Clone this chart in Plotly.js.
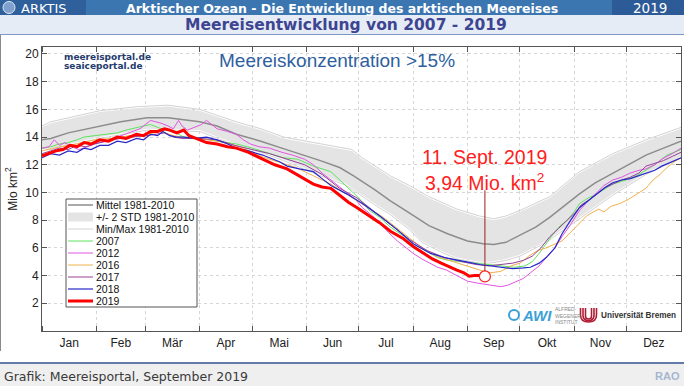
<!DOCTYPE html>
<html>
<head>
<meta charset="utf-8">
<script src="https://cdn.plot.ly/plotly-3.0.1.min.js"></script>
<style>html,body{margin:0;padding:0;background:#fff;}#chart{width:684px;height:386px;}</style>
</head>
<body>
<div id="chart"></div>
<script>
// ---------- DATA ----------
const monthNames = ['Jan','Feb','Mär','Apr','Mai','Jun','Jul','Aug','Sep','Okt','Nov','Dez'];
const monthStarts = [0,31,59,90,120,151,181,212,243,273,304,334,365];
const monthMids = [15.5,45,74.5,105,135.5,166,196.5,227.5,258,288.5,319,349.5];
const yTicks = [2,4,6,8,10,12,14,16,18,20];

const meanDays = [0,5,15,33,45,60,72,90,100,111,125,137,150,159,170,178,190,199,210,221,232,243,252,258,265,273,282,290,300,307,316,326,335,345,355,365];
const meanVals = [13.8,13.9,14.3,14.8,15.1,15.4,15.4,15.1,14.8,14.2,13.7,13.2,12.7,12.3,11.8,11.2,10.2,9.4,8.5,7.6,7.0,6.5,6.3,6.25,6.4,6.9,7.5,8.2,9.2,9.9,10.7,11.4,12.0,12.7,13.2,13.7];

const stdUpDays = [0,5,33,55,72,90,111,125,138,155,170,177,183,199,210,221,237,250,258,265,273,290,307,326,345,365];
const stdUpVals = [14.7,15.0,15.8,16.1,16.2,15.9,15.0,14.5,13.9,13.5,13.2,13.0,12.4,11.1,10.4,9.6,8.7,8.2,8.0,8.2,8.6,9.6,11.4,12.7,13.7,14.6];
const stdLoDays = [0,5,33,60,90,111,125,138,155,174,190,199,210,217,228,237,250,256,265,273,288,307,326,345,365];
const stdLoVals = [13.3,13.2,14.0,14.6,14.5,13.5,13.0,12.4,11.5,10.6,9.2,8.5,7.4,6.5,5.8,5.3,5.0,5.0,5.2,5.5,6.5,8.2,9.9,11.4,12.6];

const maxDays = [0,5,33,55,72,90,111,125,138,155,170,177,183,199,210,221,237,250,258,265,273,290,307,326,345,365];
const maxVals = [14.8,15.1,15.9,16.2,16.3,16.0,15.1,14.6,14.0,13.6,13.3,13.1,12.5,11.2,10.5,9.7,8.8,8.3,8.1,8.3,8.7,9.7,11.5,12.8,13.8,14.7];
const minDays = [0,5,33,60,90,111,125,138,155,174,190,199,210,217,228,237,250,256,265,273,288,307,326,345,365];
const minVals = [13.2,13.1,13.9,14.5,14.4,13.4,12.9,12.3,11.4,10.5,9.1,8.4,7.3,6.4,5.7,5.2,4.9,4.9,5.1,5.4,6.4,8.1,9.8,11.3,12.5];

const y2007Days = [0,5,10,15,20,24,30,36,43,48,54,58,62,66,70,75,81,90,100,111,120,130,138,146,155,165,174,181,187,193,199,206,212,219,226,232,239,246,254,262,270,276,280,284,288,292,296,300,304,307,312,317,322,326,331,336,341,345,350,357,361,365];
const y2007Vals = [13.2,13.3,13.5,13.6,13.8,14.0,14.1,14.2,14.3,14.5,14.7,14.8,14.9,14.7,14.5,14.4,14.0,13.9,13.7,13.5,13.2,12.8,12.5,12.4,11.9,11.5,10.4,9.6,8.7,8.2,7.5,6.9,6.3,5.8,5.3,5.1,5.0,4.9,4.8,4.7,4.6,4.7,5.0,5.6,6.3,7.0,7.6,8.0,8.6,9.2,9.6,9.9,10.3,10.6,10.8,11.0,11.3,11.6,12.0,12.7,12.9,13.1];

const y2012Days = [0,4,7,10,13,17,21,24,30,36,43,50,56,59,62,65,68,72,75,78,80,83,87,91,94,97,100,106,111,115,119,124,130,137,143,150,155,160,165,170,174,179,183,188,193,198,203,208,212,217,222,226,231,237,243,249,256,262,266,270,275,279,284,288,293,297,302,307,312,317,321,326,331,336,341,345,350,354,360,365];
const y2012Vals = [13.2,13.3,13.8,13.4,13.6,13.3,13.1,13.2,13.5,13.7,14.0,14.3,14.6,14.9,15.2,15.1,15.0,14.8,14.6,15.2,14.8,14.5,14.7,14.9,15.2,14.9,14.6,14.4,14.2,13.8,13.5,13.3,13.2,12.9,12.7,12.4,12.0,11.4,10.9,10.4,10.0,9.5,8.9,8.4,7.8,7.1,6.5,6.0,5.6,5.2,4.9,4.6,4.4,4.0,3.6,3.45,3.3,3.2,3.3,3.5,3.8,4.2,4.7,5.3,6.0,6.8,7.7,8.7,9.4,10.0,10.5,10.9,11.1,11.4,11.6,11.7,12.0,12.4,12.8,13.2];

const y2016Days = [0,10,20,30,40,50,60,68,75,85,95,105,115,125,135,145,155,165,175,185,195,205,215,225,235,242,250,256,262,268,273,278,283,288,293,297,301,304,308,311,315,318,321,325,330,335,340,345,349,353,357,361,365];
const y2016Vals = [13.0,13.3,13.5,13.8,13.9,14.1,14.2,14.4,14.1,13.9,13.8,13.6,13.2,12.6,12.2,11.8,11.2,10.6,9.8,9.0,8.2,7.2,6.2,5.4,5.0,4.7,4.4,4.2,4.3,4.7,4.9,5.4,5.8,6.0,6.3,6.5,7.0,7.4,7.9,8.3,8.6,8.8,8.6,9.0,9.2,9.5,9.9,10.3,10.9,11.3,11.8,12.2,12.5];

const y2017Days = [0,5,10,15,20,25,30,40,50,60,66,70,75,80,90,100,110,120,130,140,150,160,170,180,190,200,210,220,230,240,248,255,262,269,275,280,285,290,295,300,305,308,313,317,321,326,331,336,341,345,350,355,360,365];
const y2017Vals = [12.8,13.0,13.2,13.1,13.4,13.3,13.5,13.8,14.0,14.1,14.2,14.3,14.0,13.9,13.9,13.8,13.4,13.1,12.8,12.4,12.0,11.3,10.3,9.6,8.6,7.6,6.6,5.8,5.3,5.0,4.8,4.7,4.8,4.9,5.1,5.4,6.0,6.8,7.4,8.0,8.6,9.1,9.5,9.9,10.3,10.6,10.9,11.1,11.4,11.9,12.1,12.3,12.6,12.9];

const y2018Days = [0,5,10,15,20,24,28,33,38,43,48,54,58,62,66,69,73,77,81,87,94,100,106,111,118,126,136,140,147,155,160,165,174,183,193,203,212,222,230,237,244,250,256,262,269,275,279,284,288,293,297,302,307,312,317,322,326,331,336,341,345,350,354,360,365];
const y2018Vals = [12.5,12.8,12.7,13.0,12.9,13.2,13.1,13.4,13.4,13.7,13.6,13.9,13.8,14.2,14.1,14.4,14.1,14.0,14.0,13.9,14.0,13.8,13.5,13.2,13.0,12.7,12.2,11.9,11.7,11.5,11.0,10.5,9.9,9.2,8.3,7.3,6.3,5.6,5.3,5.1,4.95,4.8,4.7,4.6,4.5,4.55,4.6,4.9,5.3,6.0,7.0,8.0,8.9,9.4,9.9,10.4,10.7,10.9,11.0,11.2,11.4,11.6,11.9,12.2,12.5];

const y2019Days = [0,3,8,12,16,20,24,28,33,38,43,48,54,58,62,66,70,73,77,81,84,88,94,100,106,111,118,126,133,140,147,155,160,165,170,175,180,186,193,199,206,212,218,223,228,233,237,241,244,247,250,253];
const y2019Vals = [12.65,12.8,13.0,13.1,13.4,13.3,13.6,13.5,13.8,13.7,14.0,13.9,14.2,14.1,14.4,14.4,14.6,14.5,14.3,14.5,14.1,13.9,13.6,13.5,13.3,13.2,12.9,12.4,12.0,11.7,11.2,10.6,10.4,10.3,9.8,9.3,8.9,8.4,7.8,7.2,6.7,6.1,5.6,5.2,4.9,4.6,4.4,4.2,3.95,4.0,4.0,3.94];

const legendLabels = ['Mittel 1981-2010','+/- 2 STD 1981-2010','Min/Max 1981-2010','2007','2012','2016','2017','2018','2019'];

// ---------- STYLES ----------
const C = {
  mean:'#8c8c8c', band:'#e4e4e4', minmax:'#d2d2d2',
  y2007:'#5fe35f', y2012:'#e055e0', y2016:'#f0b04a', y2017:'#97409a', y2018:'#2828c8', y2019:'#ff0000'
};
const W = 684, H = 386, ML = 42, MR = 3, MT = 47, MB = 55;
const PW = W - ML - MR, PH = H - MT - MB;
const X = px => (px - ML) / PW;
const Y = py => (H - MB - py) / PH;
const FONT = 'Liberation Sans, Arial, sans-serif';
const DJV = 'DejaVu Sans, sans-serif';

function line(days, vals, color, width, name) {
  return {x: days, y: vals, type: 'scatter', mode: 'lines', name: name,
    line: {color: color, width: width}, hoverinfo: 'skip', showlegend: false};
}

const traces = [
  {x: stdUpDays.concat(stdLoDays.slice().reverse()), y: stdUpVals.concat(stdLoVals.slice().reverse()),
   type: 'scatter', mode: 'lines', fill: 'toself', fillcolor: C.band, line: {width: 0, color: C.band},
   hoverinfo: 'skip', showlegend: false, name: legendLabels[1]},
  line(maxDays, maxVals, C.minmax, 1, legendLabels[2]),
  line(minDays, minVals, C.minmax, 1, legendLabels[2]),
  line(meanDays, meanVals, C.mean, 1.5, legendLabels[0]),
  line(y2007Days, y2007Vals, C.y2007, 1, '2007'),
  line(y2012Days, y2012Vals, C.y2012, 1, '2012'),
  line(y2016Days, y2016Vals, C.y2016, 1, '2016'),
  line(y2017Days, y2017Vals, C.y2017, 1, '2017'),
  line(y2018Days, y2018Vals, C.y2018, 1.2, '2018'),
  line(y2019Days, y2019Vals, C.y2019, 3, '2019'),
];
const lastDay = y2019Days[y2019Days.length - 1];
const lastVal = y2019Vals[y2019Vals.length - 1];
traces.push({x: [lastDay], y: [lastVal], type: 'scatter', mode: 'markers',
  marker: {size: 11, color: '#ffffff', line: {color: '#ff2020', width: 1.2}}, hoverinfo: 'skip', showlegend: false});

// ---------- LAYOUT DECORATION ----------
const shapes = [];
const rect = (x0, y0, x1, y1, fill, lineColor, lw) => shapes.push({type: 'rect', xref: 'paper', yref: 'paper',
  x0: X(x0), x1: X(x1), y0: Y(y1), y1: Y(y0), fillcolor: fill, line: {color: lineColor || fill, width: lw || 0}, layer: 'above'});
const hline = (x0, x1, y, color, w, dash) => shapes.push({type: 'line', xref: 'paper', yref: 'paper',
  x0: X(x0), x1: X(x1), y0: Y(y), y1: Y(y), line: {color: color, width: w, dash: dash || 'solid'}, layer: 'above'});

// header
rect(0, 0, 684, 15, '#3c76b1');
rect(0, 0, 86, 15, '#2f609c');
rect(612, 0, 684, 15, '#2d5b98');
rect(0, 15, 684, 34, '#e6ecf5');
hline(0, 684, 34.5, '#7d98c4', 1);
shapes.push({type: 'circle', xref: 'paper', yref: 'paper', x0: X(3), x1: X(15), y0: Y(13.5), y1: Y(1.5),
  fillcolor: '#7f9fcc', line: {color: '#dfe8f4', width: 1}, layer: 'above'});
// left frame & footer
shapes.push({type: 'line', xref: 'paper', yref: 'paper', x0: X(0.5), x1: X(0.5), y0: Y(35), y1: Y(351),
  line: {color: '#8a8a8a', width: 1}, layer: 'above'});
rect(0, 363.5, 684, 386, '#efefef');
hline(0, 684, 363, '#2f4f8c', 1.5);

// legend
rect(66, 199, 197, 307, '#ffffff', '#555555', 1);
const legRows = [205, 217, 229, 241, 253, 265, 277, 289, 301];
const legStyles = [
  {c: C.mean, w: 1.5}, {band: true}, {c: C.minmax, w: 1}, {c: C.y2007, w: 1}, {c: C.y2012, w: 1},
  {c: C.y2016, w: 1}, {c: C.y2017, w: 1}, {c: C.y2018, w: 1.2}, {c: C.y2019, w: 3}];
const annotations = [];
legRows.forEach((ry, i) => {
  const s = legStyles[i];
  if (s.band) rect(68, ry - 4.5, 93, ry + 4.5, C.band);
  else hline(68, 93, ry, s.c, s.w);
  annotations.push({xref: 'paper', yref: 'paper', x: X(94), y: Y(ry), xanchor: 'left', yanchor: 'middle',
    text: legendLabels[i], showarrow: false, font: {family: FONT, size: 10.5, color: '#111'}});
});

// pointer line from label to the 2019 minimum marker
shapes.push({type: 'line', xref: 'x', yref: 'y', x0: lastDay, x1: lastDay, y0: lastVal + 0.38, y1: 10.15,
  line: {color: '#9b1b1b', width: 1}, layer: 'above'});

// Bremen logo (nested U)
[8, 5.5, 3].forEach(r => {
  const cx = 588.5, top = 308, bot = 322 - (8 - r) * 0.6;
  const mid = bot - r * 0.9;
  shapes.push({type: 'path', xref: 'paper', yref: 'paper',
    path: `M ${X(cx - r)} ${Y(top)} L ${X(cx - r)} ${Y(mid)} Q ${X(cx - r)} ${Y(bot)} ${X(cx)} ${Y(bot)} Q ${X(cx + r)} ${Y(bot)} ${X(cx + r)} ${Y(mid)} L ${X(cx + r)} ${Y(top)}`,
    line: {color: '#b01c34', width: 1.6}, layer: 'above'});
});
shapes.push({type: 'circle', xref: 'paper', yref: 'paper', x0: X(509), x1: X(519), y0: Y(320), y1: Y(310),
  line: {color: '#3aa0d8', width: 2}, layer: 'above'});

const ann = (px, py, text, size, color, opts, family) => annotations.push(Object.assign({xref: 'paper', yref: 'paper',
  x: X(px), y: Y(py), text: text, showarrow: false, xanchor: 'center', yanchor: 'middle',
  font: {family: family || FONT, size: size, color: color}}, opts || {}));

ann(19, 8, 'ARKTIS', 13, '#ffffff', {xanchor: 'left'}, DJV);
ann(342, 8, '<b>Arktischer Ozean - Die Entwicklung des arktischen Meereises</b>', 12.5, '#ffffff', null, DJV);
ann(649.5, 8, '2019', 13.5, '#ffffff', null, DJV);
ann(346, 25.5, '<b>Meereisentwicklung von 2007 - 2019</b>', 15.5, '#3d4592', null, DJV);
ann(62, 57, '<b>meereisportal.de</b>', 9, '#1f3b6e', {xanchor: 'left'}, DJV);
ann(62, 66.5, '<b>seaiceportal.de</b>', 9, '#1f3b6e', {xanchor: 'left'}, DJV);
ann(337, 60, 'Meereiskonzentration >15%', 19, '#2f5f9f');
annotations.push({xref: 'x', yref: 'paper', x: lastDay, y: Y(157), text: '11. Sept. 2019', showarrow: false,
  xanchor: 'center', yanchor: 'middle', font: {family: FONT, size: 19.5, color: '#ff2020'}});
annotations.push({xref: 'x', yref: 'paper', x: lastDay, y: Y(182), text: String(lastVal).replace('.', ',') + ' Mio. km<sup>2</sup>', showarrow: false,
  xanchor: 'center', yanchor: 'middle', font: {family: FONT, size: 19.5, color: '#ff2020'}});
ann(520, 315, '<b><i>AWI</i></b>', 15, '#3aa0d8', {xanchor: 'left'});
ann(553, 315, 'ALFRED-<br>WEGENER-<br>INSTITUT', 5, '#888888', {xanchor: 'left', align: 'left'});
ann(599, 315, '<b>Universität Bremen</b>', 8.2, '#333333', {xanchor: 'left'});
ann(2, 376, 'Grafik: Meereisportal, September 2019', 12.5, '#3a3a3a', {xanchor: 'left'}, DJV);
ann(682, 376, '<b>RAO</b>', 11, '#a6b6cf', {xanchor: 'right'});

const layout = {
  width: W, height: H,
  margin: {l: ML, r: MR, t: MT, b: MB, pad: 0},
  paper_bgcolor: '#ffffff', plot_bgcolor: '#ffffff',
  font: {family: FONT, size: 12, color: '#222'},
  showlegend: false,
  xaxis: {
    range: [0, 365], fixedrange: true, zeroline: false,
    showline: true, linecolor: '#555', linewidth: 1, mirror: 'ticks',
    tickmode: 'array', tickvals: monthMids, ticktext: monthNames, ticks: '', showgrid: false,
    tickfont: {family: FONT, size: 12, color: '#222'}, ticklabelstandoff: 1,
    minor: {tickmode: 'array', tickvals: monthStarts, ticks: 'inside', ticklen: 5, tickcolor: '#555', tickwidth: 1,
      showgrid: true, gridcolor: '#d6d6d6', griddash: 'dot', gridwidth: 1}
  },
  yaxis: {
    range: [0, 20.5], fixedrange: true, zeroline: false,
    showline: true, linecolor: '#555', linewidth: 1, mirror: 'ticks',
    tickmode: 'array', tickvals: yTicks, ticks: 'inside', ticklen: 5, tickcolor: '#555',
    showgrid: true, gridcolor: '#d6d6d6', griddash: 'dot', gridwidth: 1,
    tickfont: {family: FONT, size: 12, color: '#222'},
    title: {text: 'Mio km<sup>2</sup>', font: {family: FONT, size: 12, color: '#222'}, standoff: 5}
  },
  shapes: shapes,
  annotations: annotations
};

Plotly.newPlot('chart', traces, layout, {staticPlot: true, displayModeBar: false});
</script>
</body>
</html>
